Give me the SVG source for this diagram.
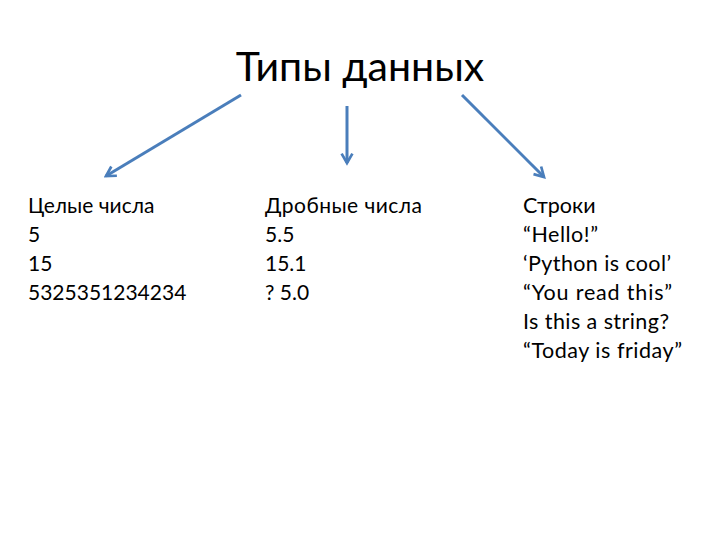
<svg xmlns="http://www.w3.org/2000/svg" width="720" height="540" viewBox="0 0 720 540">
<defs>
<style>
.t{font-family:Lato,"Open Sans","Noto Sans",sans-serif;fill:#000;}
.h{font-size:41px;}
.b{font-size:21px;}
.s{font-size:21.5px;}
.c{stroke:#4a7ebb;stroke-width:3;fill:none;}
</style>
<marker id="ah" viewBox="0 0 10 10" refX="8" refY="5" markerWidth="4.5" markerHeight="4.5" orient="auto" markerUnits="strokeWidth">
<path d="M1,1 L8,5 L1,9" fill="none" stroke="#4a7ebb" stroke-width="2"/>
</marker>
</defs>
<rect width="720" height="540" fill="#fff"/>
<g id="title"><text class="t h" x="360" y="81" text-anchor="middle">Типы данных</text></g>
<g id="connectors">
<line class="c" x1="241" y1="95" x2="106" y2="176" marker-end="url(#ah)"/>
<line class="c" x1="347" y1="106" x2="347" y2="163" marker-end="url(#ah)"/>
<line class="c" x1="462" y1="95" x2="544" y2="177" marker-end="url(#ah)"/>
</g>
<g id="integers">
<text class="t b" x="28" y="213">Целые числа</text>
<text class="t b" x="28" y="242">5</text>
<text class="t b" x="28" y="271">15</text>
<text class="t b" x="28" y="300">5325351234234</text>
</g>
<g id="floats">
<text class="t b" x="265" y="213" textLength="157">Дробные числа</text>
<text class="t b" x="265" y="242">5.5</text>
<text class="t b" x="265" y="271">15.1</text>
<text class="t b" x="265" y="300">? 5.0</text>
</g>
<g id="strings">
<text class="t s" x="523" y="213">Строки</text>
<text class="t s" x="523" y="242" textLength="75">“Hello!”</text>
<text class="t s" x="523" y="271" textLength="148">‘Python is cool’</text>
<text class="t s" x="523" y="300" textLength="149">“You read this”</text>
<text class="t s" x="523" y="329" textLength="146">Is this a string?</text>
<text class="t s" x="523" y="358" textLength="159">“Today is friday”</text>
</g>
</svg>
